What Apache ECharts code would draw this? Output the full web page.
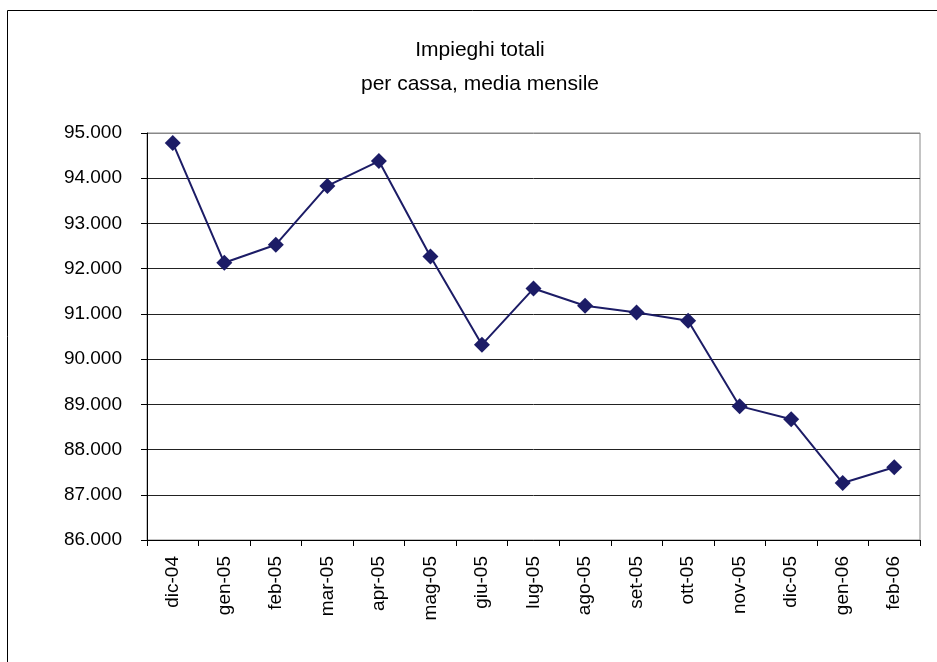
<!DOCTYPE html>
<html>
<head>
<meta charset="utf-8">
<script src="https://cdn.jsdelivr.net/npm/echarts@6/dist/echarts.min.js"></script>
<style>
  html, body { margin: 0; padding: 0; background: #fff; }
  #chart-container { width: 937px; height: 662px; }
</style>
</head>
<body>
<div id="chart-container"></div>
<script>
var dom = document.getElementById('chart-container');
var myChart = echarts.init(dom, null, { renderer: 'canvas' });

const mesi = ['dic-04', 'gen-05', 'feb-05', 'mar-05', 'apr-05', 'mag-05', 'giu-05', 'lug-05',
  'ago-05', 'set-05', 'ott-05', 'nov-05', 'dic-05', 'gen-06', 'feb-06'];
const impieghi = [94780, 92130, 92530, 93830, 94380, 92270, 90320, 91560,
  91180, 91030, 90850, 88960, 88670, 87260, 87610];

const font = 'Liberation Sans, Arial, sans-serif';

// griglia: le linee interne scure, quella superiore grigia
const gridColors = ['#222', '#222', '#222', '#222', '#222', '#222', '#222', '#222', '#222', '#888'];

var option = {
  backgroundColor: '#fff',
  title: {
    text: 'Impieghi totali\nper cassa, media mensile',
    left: 475,
    top: 28,
    textAlign: 'center',
    textStyle: {
      fontFamily: font,
      fontWeight: 'normal',
      fontSize: 21,
      lineHeight: 34,
      color: '#000'
    }
  },
  graphic: [{
    type: 'rect',
    shape: { x: 7.5, y: 10.5, width: 1000, height: 1000 },
    style: { fill: 'none', stroke: '#000', lineWidth: 1 },
    silent: true
  }],
  grid: {
    left: 147,
    right: 17,
    top: 133,
    bottom: 122,
    show: true,
    borderColor: '#888',
    borderWidth: 1
  },
  xAxis: {
    type: 'category',
    data: mesi,
    boundaryGap: true,
    axisLine: { lineStyle: { color: '#000', width: 1 } },
    axisTick: { show: true, length: 6, lineStyle: { color: '#000' } },
    axisLabel: {
      rotate: 90,
      margin: 16,
      fontFamily: font,
      fontSize: 19,
      color: '#000'
    }
  },
  yAxis: {
    type: 'value',
    min: 86000,
    max: 95000,
    interval: 1000,
    axisLine: { show: true, lineStyle: { color: '#000', width: 1 } },
    axisTick: { show: true, length: 6, lineStyle: { color: '#000' } },
    splitLine: { show: true, lineStyle: { color: gridColors, width: 1 } },
    axisLabel: {
      margin: 25,
      fontFamily: font,
      fontSize: 19,
      color: '#000',
      formatter: function (v) {
        return (v / 1000).toFixed(3);
      }
    }
  },
  series: [{
    type: 'line',
    data: impieghi,
    symbol: 'diamond',
    symbolSize: 16,
    lineStyle: { color: '#1c1c66', width: 2 },
    itemStyle: { color: '#1c1c66' },
    animation: false
  }]
};

myChart.setOption(option);
window.addEventListener('resize', myChart.resize);
</script>
</body>
</html>
